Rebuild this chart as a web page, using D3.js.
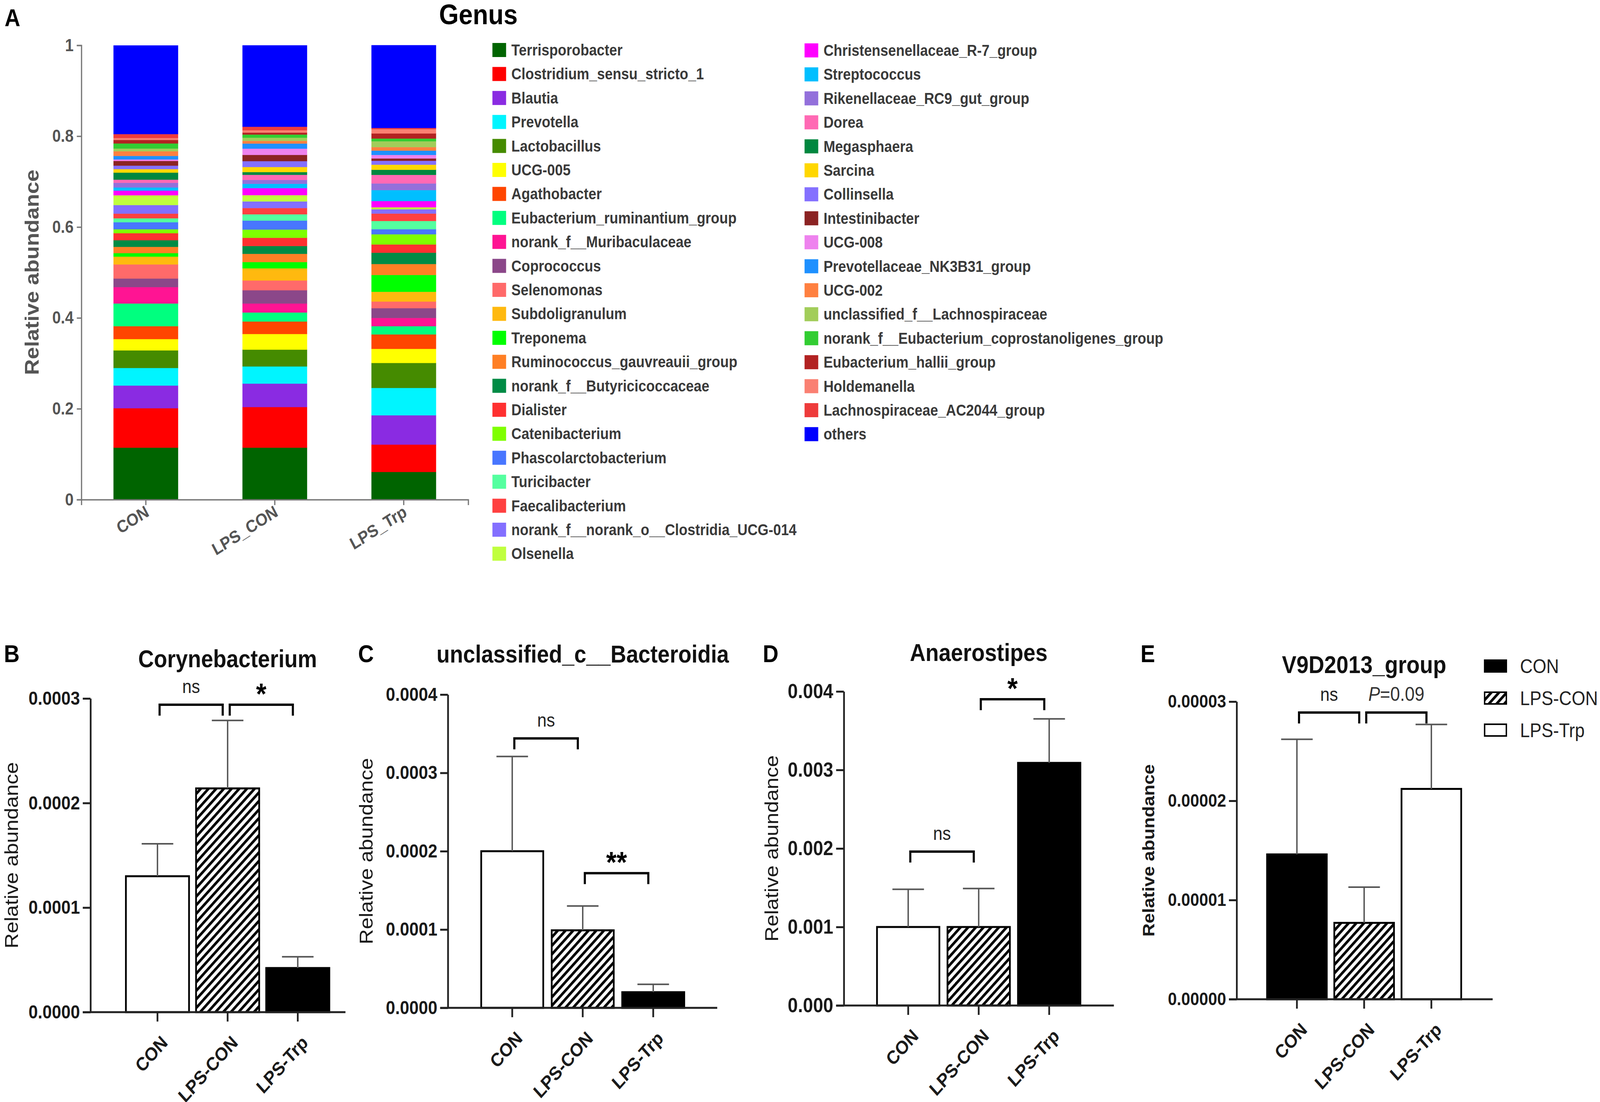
<!DOCTYPE html>
<html>
<head>
<meta charset="utf-8">
<script src="https://cdn.jsdelivr.net/npm/d3@7"></script>
<style>
  html, body { margin: 0; padding: 0; width: 100%; height: 100%; background: #fff; overflow: hidden; }
  svg { display: block; }
  text { font-family: "Liberation Sans", Arial, Helvetica, sans-serif; }
</style>
</head>
<body>
<script>
var W = 4562, H = 2821;

// ---- panel A : genus composition ----
var samples = ["CON", "LPS_CON", "LPS_Trp"];

var genera = [
  "Terrisporobacter", "Clostridium_sensu_stricto_1", "Blautia", "Prevotella",
  "Lactobacillus", "UCG-005", "Agathobacter", "Eubacterium_ruminantium_group",
  "norank_f__Muribaculaceae", "Coprococcus", "Selenomonas", "Subdoligranulum",
  "Treponema", "Ruminococcus_gauvreauii_group", "norank_f__Butyricicoccaceae",
  "Dialister", "Catenibacterium", "Phascolarctobacterium", "Turicibacter",
  "Faecalibacterium", "norank_f__norank_o__Clostridia_UCG-014", "Olsenella",
  "Christensenellaceae_R-7_group", "Streptococcus", "Rikenellaceae_RC9_gut_group",
  "Dorea", "Megasphaera", "Sarcina", "Collinsella", "Intestinibacter", "UCG-008",
  "Prevotellaceae_NK3B31_group", "UCG-002", "unclassified_f__Lachnospiraceae",
  "norank_f__Eubacterium_coprostanoligenes_group", "Eubacterium_hallii_group",
  "Holdemanella", "Lachnospiraceae_AC2044_group", "others"
];

var generaColors = [
  "#006400", "#ff0000", "#8a2be2", "#00f5ff", "#458b00", "#ffff00", "#ff4500", "#00ff7f",
  "#ff1493", "#8b4789", "#ff6a6a", "#ffb90f", "#00ff00", "#ff7f24", "#008b45", "#ff3030",
  "#7fff00", "#4876ff", "#54ff9f", "#ff4040", "#836fff", "#c0ff3e",
  "#ff00ff", "#00bfff", "#9370db", "#ff69b4", "#00873f", "#ffd700", "#8470ff", "#8b2323",
  "#ee82ee", "#1e90ff", "#ff8040", "#a2cd5a", "#32cd32", "#b22222", "#fa8072", "#ee3b3b",
  "#0000ff"
];

var conAbund = [0.1144, 0.0868, 0.0499, 0.0387, 0.0387, 0.0249, 0.0284, 0.0499, 0.0361, 0.0189,
  0.031, 0.0172, 0.0077, 0.0138, 0.0146, 0.0155, 0.0086, 0.0155, 0.0086, 0.0103, 0.0189, 0.0215,
  0.0103, 0.0069, 0.0103, 0.0069, 0.0155, 0.0077, 0.0077, 0.0103, 0.0034, 0.0077, 0.0103, 0.006,
  0.0112, 0.0077, 0.0043, 0.0086, 0.195];
var lpsConAbund = [0.1144, 0.0894, 0.0516, 0.0378, 0.037, 0.0344, 0.0275, 0.0198, 0.0198, 0.0292,
  0.0215, 0.0267, 0.0138, 0.0181, 0.0172, 0.0181, 0.0181, 0.0198, 0.0138, 0.0138, 0.0146, 0.0138,
  0.0155, 0.0095, 0.0086, 0.0112, 0.006, 0.0112, 0.0129, 0.0138, 0.0138, 0.0112, 0.006, 0.0069,
  0.0069, 0.0043, 0.0052, 0.0077, 0.179];
var lpsTrpAbund = [0.061, 0.0602, 0.0645, 0.0602, 0.055, 0.031, 0.0318, 0.0181, 0.0181, 0.0215,
  0.0146, 0.0215, 0.037, 0.0241, 0.0249, 0.0181, 0.0224, 0.0112, 0.0181, 0.0163, 0.0095, 0.0043,
  0.0138, 0.0241, 0.0146, 0.0189, 0.0112, 0.0112, 0.0086, 0.0052, 0.0077, 0.0095, 0.0077, 0.0129,
  0.006, 0.0112, 0.0095, 0.0026, 0.182];

var abundTicks = [0, 0.2, 0.4, 0.6, 0.8, 1];

// ---- panels B-E : single genera, mean and SD ----
var groups = ["CON", "LPS-CON", "LPS-Trp"];

var coryneMean = [0.000130, 0.000214, 0.0000422];
var coryneSd   = [0.000031, 0.000065, 0.0000108];
var coryneTicks = [0, 0.0001, 0.0002, 0.0003];
var coryneSig = [[0, 1, 0.000294, "ns"], [1, 2, 0.000294, "*"]];

var bactMean = [0.000200, 0.000099, 0.000020];
var bactSd   = [0.000121, 0.000031, 0.000010];
var bactTicks = [0, 0.0001, 0.0002, 0.0003, 0.0004];
var bactSig = [[0, 1, 0.000344, "ns"], [1, 2, 0.000172, "**"]];

var anaeroMean = [0.00100, 0.00100, 0.00309];
var anaeroSd   = [0.00048, 0.00049, 0.00056];
var anaeroTicks = [0, 0.001, 0.002, 0.003, 0.004];
var anaeroSig = [[0, 1, 0.00196, "ns"], [1, 2, 0.0039, "*"]];

var v9Mean = [0.0000146, 0.0000077, 0.0000212];
var v9Sd   = [0.0000116, 0.0000036, 0.0000065];
var v9Ticks = [0, 0.00001, 0.00002, 0.00003];
var v9Sig = [[0, 1, 0.0000289, "ns"], [1, 2, 0.0000289, "P=0.09"]];

// the drawing is laid out in a 4562 x 2821 box and stretched to the window
var svg = d3.select("body").append("svg")
  .attr("viewBox", "0 0 " + W + " " + H)
  .attr("preserveAspectRatio", "none")
  .style("width", "100vw")
  .style("height", "100vh");

svg.append("rect").attr("width", W).attr("height", H).attr("fill", "#fff");

var defs = svg.append("defs");
var hatch = defs.append("pattern")
  .attr("id", "hatch")
  .attr("patternUnits", "userSpaceOnUse")
  .attr("width", 15.5).attr("height", 15.5)
  .attr("patternTransform", "rotate(45)");
hatch.append("rect").attr("width", 15.5).attr("height", 15.5).attr("fill", "#fff");
hatch.append("rect").attr("width", 7).attr("height", 15.5).attr("fill", "#000");

function panelLetter(txt, x, y) {
  svg.append("text").attr("x", x).attr("y", y)
    .attr("font-size", 62).attr("font-weight", "bold").attr("fill", "#000")
    .text(txt);
}

// ================= panel A =================
panelLetter("A", 13, 67);

svg.append("text")
  .attr("x", 1364).attr("y", 62)
  .attr("text-anchor", "middle")
  .attr("font-size", 72).attr("font-weight", "bold")
  .text("Genus");

var aX = d3.scaleBand().domain(samples).range([232, 1335]).paddingInner(0.5).paddingOuter(0.25);
var aY = d3.scaleLinear().domain([0, 1]).range([1279, 116]);

var abundBySample = [conAbund, lpsConAbund, lpsTrpAbund];
var table = samples.map(function(s, i) {
  var row = { sample: s };
  genera.forEach(function(g, k) { row[g] = abundBySample[i][k]; });
  return row;
});
var layers = d3.stack().keys(genera)(table);

var gA = svg.append("g");
gA.selectAll("g.layer")
  .data(layers)
  .join("g")
  .attr("class", "layer")
  .attr("fill", function(d, i) { return generaColors[i]; })
  .attr("stroke", function(d, i) { return generaColors[i]; })
  .attr("stroke-width", 0.6)
  .selectAll("rect")
  .data(function(d) { return d; })
  .join("rect")
  .attr("x", function(d) { return aX(d.data.sample); })
  .attr("width", aX.bandwidth())
  .attr("y", function(d) { return aY(d[1]); })
  .attr("height", function(d) { return aY(d[0]) - aY(d[1]); });

var aYAxis = svg.append("g")
  .attr("transform", "translate(232,0)")
  .call(d3.axisLeft(aY).tickValues(abundTicks)
    .tickFormat(function(d) { return (d === 0 || d === 1) ? String(d) : d.toFixed(1); })
    .tickSize(13).tickPadding(9));
var aXAxis = svg.append("g")
  .attr("transform", "translate(0,1279)")
  .call(d3.axisBottom(aX).tickSize(14).tickSizeOuter(14));

[aYAxis, aXAxis].forEach(function(ax) {
  ax.selectAll("path, line").attr("stroke", "#777").attr("stroke-width", 3.5);
  ax.selectAll("text").attr("font-size", 44).attr("font-weight", "bold").attr("fill", "#555");
});
aXAxis.selectAll("text")
  .attr("y", null).attr("dy", null)
  .attr("text-anchor", "end")
  .attr("transform", "translate(12,40) rotate(-30)");

svg.append("text")
  .attr("transform", "translate(110,697) rotate(-90)")
  .attr("text-anchor", "middle")
  .attr("font-size", 56).attr("font-weight", "bold").attr("fill", "#555")
  .text("Relative abundance");

// legend of panel A, two columns
var legA = svg.append("g").selectAll("g")
  .data(genera)
  .join("g")
  .attr("transform", function(d, i) {
    return i < 22 ? "translate(1404," + (128 + i * 61.4) + ")"
                  : "translate(2294," + (129 + (i - 22) * 61.4) + ")";
  });
legA.append("rect")
  .attr("x", 0).attr("y", -18).attr("width", 39).attr("height", 36)
  .attr("fill", function(d) { return generaColors[genera.indexOf(d)]; });
legA.append("text")
  .attr("x", 54).attr("y", 14)
  .attr("font-size", 40).attr("font-weight", "bold").attr("fill", "#3a3a3a")
  .text(function(d) { return d; });

// ================= panels B-E =================
function barPanel(p) {
  var g = svg.append("g");
  var x = d3.scaleBand().domain(groups).range(p.band).paddingInner(p.padIn).paddingOuter(p.padIn / 2);
  var y = d3.scaleLinear().domain([0, p.ticks[p.ticks.length - 1]]).range([p.y0, p.yTop]);
  var cx = function(i) { return x(groups[i]) + x.bandwidth() / 2; };

  panelLetter(p.letter, p.letterX, 1695);

  g.append("text")
    .attr("x", cx(1)).attr("y", p.titleY)
    .attr("text-anchor", "middle")
    .attr("font-size", 62).attr("font-weight", "bold").attr("fill", "#111")
    .text(p.title);

  g.append("text")
    .attr("transform", "translate(" + p.labelX + "," + ((p.y0 + p.yTop) / 2) + ") rotate(-90)")
    .attr("text-anchor", "middle")
    .attr("font-size", p.labelBold ? 47 : 54)
    .attr("font-weight", p.labelBold ? "bold" : "normal")
    .attr("fill", "#1a1a1a")
    .text("Relative abundance");

  // bars
  g.selectAll("rect.bar")
    .data(groups)
    .join("rect")
    .attr("class", "bar")
    .attr("x", function(d) { return x(d); })
    .attr("width", x.bandwidth())
    .attr("y", function(d, i) { return y(p.mean[i]); })
    .attr("height", function(d, i) { return y(0) - y(p.mean[i]); })
    .attr("fill", function(d, i) { return p.fills[i]; })
    .attr("stroke", "#000")
    .attr("stroke-width", 5);

  // error bars (mean + SD)
  var err = g.selectAll("g.err").data(groups).join("g").attr("class", "err");
  err.append("line")
    .attr("x1", function(d, i) { return cx(i); })
    .attr("x2", function(d, i) { return cx(i); })
    .attr("y1", function(d, i) { return y(p.mean[i]); })
    .attr("y2", function(d, i) { return y(p.mean[i] + p.sd[i]); })
    .attr("stroke", "#555").attr("stroke-width", 4);
  err.append("line")
    .attr("x1", function(d, i) { return cx(i) - 45; })
    .attr("x2", function(d, i) { return cx(i) + 45; })
    .attr("y1", function(d, i) { return y(p.mean[i] + p.sd[i]); })
    .attr("y2", function(d, i) { return y(p.mean[i] + p.sd[i]); })
    .attr("stroke", "#555").attr("stroke-width", 4);

  // axes
  var yAx = g.append("g")
    .attr("transform", "translate(" + p.axisX + ",0)")
    .call(d3.axisLeft(y).tickValues(p.ticks).tickFormat(d3.format(p.fmt))
      .tickSize(22).tickSizeOuter(0).tickPadding(8));
  yAx.selectAll("text").attr("font-size", p.tickFont).attr("font-weight", "bold").attr("fill", "#1a1a1a");

  var xAx = g.append("g")
    .attr("transform", "translate(0," + p.y0 + ")")
    .call(d3.axisBottom(x).tickSize(24).tickSizeOuter(0));
  xAx.select(".domain").attr("d", "M" + (p.axisX - 22) + ",0H" + p.xEnd);
  xAx.selectAll("text")
    .attr("y", null).attr("dy", null)
    .attr("text-anchor", "end")
    .attr("transform", "translate(32,81) rotate(-45)")
    .attr("font-size", 48).attr("font-weight", "bold").attr("fill", "#1a1a1a");

  [yAx, xAx].forEach(function(ax) {
    ax.selectAll("path, line").attr("stroke", "#222").attr("stroke-width", 5);
  });

  // significance brackets
  p.sig.forEach(function(s) {
    var x1 = cx(s[0]) + 6, x2 = cx(s[1]) - 14, yl = y(s[2]);
    g.append("path")
      .attr("d", "M" + x1 + "," + (yl + 28) + "V" + yl + "H" + x2 + "V" + (yl + 28))
      .attr("fill", "none").attr("stroke", "#000").attr("stroke-width", 6);
    var t = g.append("text")
      .attr("x", (x1 + x2) / 2)
      .attr("text-anchor", "middle");
    if (s[3] === "ns") {
      t.attr("y", yl - 30).attr("font-size", 48).attr("fill", "#222").text("ns");
    } else if (s[3].charAt(0) === "P") {
      t.attr("y", yl - 30).attr("font-size", 50).attr("fill", "#333");
      t.append("tspan").attr("font-style", "italic").text("P");
      t.append("tspan").text(s[3].slice(1));
    } else {
      t.attr("y", yl - 2).attr("font-size", 76).attr("font-weight", "bold").attr("fill", "#000").text(s[3]);
    }
  });

  return { x: x, y: y };
}

barPanel({
  letter: "B", letterX: 11, title: "Corynebacterium", titleY: 1708,
  band: [349, 949], padIn: 0.1, axisX: 258, xEnd: 985, y0: 2591, yTop: 1788,
  ticks: coryneTicks, fmt: ".4f", tickFont: 48, labelX: 51,
  mean: coryneMean, sd: coryneSd, sig: coryneSig,
  fills: ["#fff", "url(#hatch)", "#000"]
});

barPanel({
  letter: "C", letterX: 1021, title: "unclassified_c__Bacteroidia", titleY: 1696,
  band: [1360, 1963], padIn: 0.12, axisX: 1277, xEnd: 2045, y0: 2580, yTop: 1778,
  ticks: bactTicks, fmt: ".4f", tickFont: 48, labelX: 1062,
  mean: bactMean, sd: bactSd, sig: bactSig,
  fills: ["#fff", "url(#hatch)", "#000"]
});

barPanel({
  letter: "D", letterX: 2175, title: "Anaerostipes", titleY: 1692,
  band: [2489, 3092], padIn: 0.115, axisX: 2406, xEnd: 3176, y0: 2574, yTop: 1770,
  ticks: anaeroTicks, fmt: ".3f", tickFont: 52, labelX: 2219,
  mean: anaeroMean, sd: anaeroSd, sig: anaeroSig,
  fills: ["#fff", "url(#hatch)", "#000"]
});

var v9Fills = ["#000", "url(#hatch)", "#fff"];
barPanel({
  letter: "E", letterX: 3252, title: "V9D2013_group", titleY: 1723,
  band: [3602, 4177], padIn: 0.112, axisX: 3526, xEnd: 4256, y0: 2558, yTop: 1796,
  ticks: v9Ticks, fmt: ".5f", tickFont: 46, labelX: 3291, labelBold: true,
  mean: v9Mean, sd: v9Sd, sig: v9Sig,
  fills: v9Fills
});

// group legend next to panel E
var legE = svg.append("g").selectAll("g")
  .data(groups)
  .join("g")
  .attr("transform", function(d, i) { return "translate(4233," + (1705 + i * 82) + ")"; });
legE.append("rect")
  .attr("x", 0).attr("y", -15).attr("width", 62).attr("height", 30)
  .attr("fill", function(d) { return v9Fills[groups.indexOf(d)]; })
  .attr("stroke", "#000").attr("stroke-width", 4);
legE.append("text")
  .attr("x", 101).attr("y", 18)
  .attr("font-size", 50).attr("fill", "#222")
  .text(function(d) { return d; });
</script>
</body>
</html>
